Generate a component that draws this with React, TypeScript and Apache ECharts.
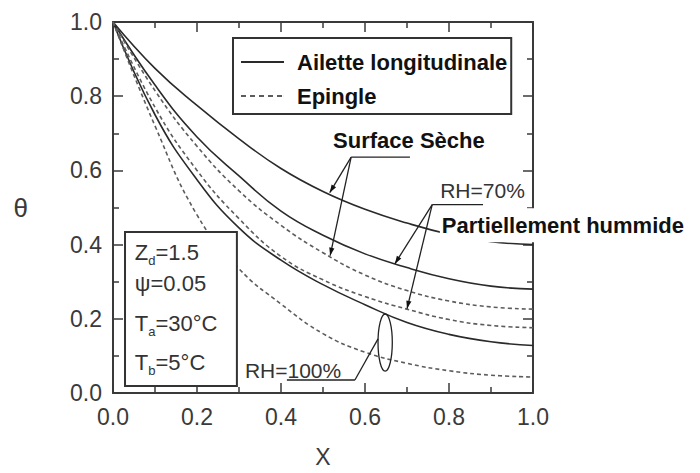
import React, { useEffect, useRef } from "react";
import * as echarts from "echarts";

// ---- data ----
const xValues = [0, 0.1, 0.2, 0.3, 0.4, 0.5, 0.6, 0.7, 0.8, 0.9, 1.0];
const ailetteSeche = [1, 0.875, 0.775, 0.685, 0.605, 0.543, 0.495, 0.458, 0.428, 0.408, 0.4];
const ailetteRH70 = [1, 0.83, 0.69, 0.585, 0.49, 0.425, 0.375, 0.338, 0.308, 0.288, 0.28];
const ailetteRH100 = [1, 0.75, 0.575, 0.445, 0.358, 0.292, 0.238, 0.19, 0.158, 0.138, 0.128];
const epingleSeche = [1, 0.815, 0.665, 0.545, 0.452, 0.378, 0.318, 0.276, 0.248, 0.232, 0.226];
const epingleRH70 = [1, 0.77, 0.6, 0.47, 0.368, 0.305, 0.26, 0.226, 0.198, 0.182, 0.176];
const epingleRH100 = [1, 0.72, 0.48, 0.335, 0.24, 0.16, 0.11, 0.08, 0.06, 0.048, 0.043];
const legendNames = ["Ailette longitudinale", "Epingle"];
const tickLabels = ["0.0", "0.2", "0.4", "0.6", "0.8", "1.0"];

const FONT = '"Liberation Sans", Arial, Helvetica, sans-serif';
const INK = "#3a3a3a";
const SOLID_ICON = "path://M0 0H43V2H0Z";
const DASH_ICON =
  "path://M0 0H5V2H0Z M9 0H14V2H9Z M18 0H23V2H18Z M27 0H32V2H27Z M36 0H41V2H36Z M42.9 0H43V2H42.9Z";

export default function App() {
  const ref = useRef<HTMLDivElement>(null);
  useEffect(() => {
    const chart = echarts.init(ref.current!, null, { renderer: "svg" });
    const pairs = (ys: number[]) => xValues.map((x, i) => [x, ys[i]]);
    const solid = { color: "#2a2a2a", width: 1.6, type: "solid" };
    const dashed = { color: "#5c5c5c", width: 1.6, type: [4, 3] };
    const mk = (name: string, ys: number[], ls: any) => ({
      type: "line",
      name,
      data: pairs(ys),
      smooth: 0.45,
      symbol: "none",
      lineStyle: ls,
      itemStyle: { color: ls.color },
      z: 3,
    });
    const fmt = (v: number) => tickLabels[Math.round(v / 0.2)] ?? "";
    const axisBase: any = {
      type: "value",
      min: 0,
      max: 1,
      interval: 0.2,
      axisLine: { show: true, onZero: false, lineStyle: { color: INK, width: 2 } },
      axisTick: { show: true, inside: true, length: 10, lineStyle: { color: INK, width: 1.5 } },
      minorTick: { show: true, splitNumber: 2, length: 6, lineStyle: { color: INK, width: 1.5 } },
      splitLine: { show: false },
      minorSplitLine: { show: false },
    };
    const label = { fontSize: 23, color: INK, fontFamily: FONT, formatter: fmt };

    chart.setOption({
      animation: false,
      backgroundColor: "#fff",
      grid: { left: 113, right: 167, top: 22, bottom: 75, containLabel: false },
      legend: {
        data: [
          { name: legendNames[0], icon: SOLID_ICON, itemStyle: { color: "#2a2a2a" } },
          { name: legendNames[1], icon: DASH_ICON, itemStyle: { color: "#5c5c5c" } },
        ],
        orient: "vertical",
        left: 233,
        top: 38,
        itemWidth: 43,
        itemHeight: 14,
        itemGap: 10,
        padding: [12, 4, 6, 8],
        borderColor: "#333",
        borderWidth: 2,
        backgroundColor: "#fff",
        selectedMode: false,
        textStyle: {
          fontSize: 22,
          fontWeight: "bold",
          color: "#111",
          fontFamily: FONT,
          lineHeight: 24,
          padding: [0, 0, 0, 8],
        },
      },
      xAxis: [
        {
          ...axisBase,
          position: "bottom",
          axisLabel: { ...label, margin: 12 },
          name: "X",
          nameLocation: "middle",
          nameGap: 52,
          nameTextStyle: { fontSize: 23, color: INK, fontFamily: FONT },
        },
        { ...axisBase, position: "top", axisLabel: { show: false } },
      ],
      yAxis: [
        {
          ...axisBase,
          position: "left",
          axisLabel: { ...label, margin: 11 },
          name: "θ",
          nameLocation: "middle",
          nameRotate: 0,
          nameGap: 85,
          nameTextStyle: { fontSize: 26, color: INK, fontFamily: FONT },
        },
        { ...axisBase, position: "right", axisLabel: { show: false } },
      ],
      series: [
        mk(legendNames[0], ailetteSeche, solid),
        mk(legendNames[0], ailetteRH70, solid),
        mk(legendNames[0], ailetteRH100, solid),
        mk(legendNames[1], epingleSeche, dashed),
        mk(legendNames[1], epingleRH70, dashed),
        mk(legendNames[1], epingleRH100, dashed),
      ],
    });

    // ---- annotations (positions in data coordinates) ----
    const P = (x: number, y: number) =>
      chart.convertToPixel({ xAxisIndex: 0, yAxisIndex: 0 }, [x, y]) as number[];
    const canvas = document.createElement("canvas").getContext("2d")!;
    const measure = (t: string, size: number, weight = "normal") => {
      canvas.font = `${weight} ${size}px "Liberation Sans"`;
      return canvas.measureText(t).width;
    };
    const els: any[] = [];
    const txt = (t: string, x: number, y: number, size: number, weight = "normal", extra: any = {}) =>
      els.push({
        type: "text",
        z: 100,
        x,
        y,
        style: {
          text: t,
          fill: "#111",
          fontSize: size,
          fontWeight: weight,
          fontFamily: FONT,
          align: "left",
          textAlign: "left",
          verticalAlign: "middle",
          textVerticalAlign: "middle",
          ...extra,
        },
      });
    const seg = (a: number[], b: number[], w = 1.3) =>
      els.push({
        type: "line",
        z: 90,
        shape: { x1: a[0], y1: a[1], x2: b[0], y2: b[1] },
        style: { stroke: "#222", lineWidth: w },
      });
    const arrow = (from: number[], tip: number[]) => {
      seg(from, tip);
      const dx = tip[0] - from[0];
      const dy = tip[1] - from[1];
      const len = Math.hypot(dx, dy);
      const ux = dx / len, uy = dy / len;
      const L = 8, W = 2.6;
      els.push({
        type: "polygon",
        z: 91,
        shape: {
          points: [
            tip,
            [tip[0] - L * ux + W * uy, tip[1] - L * uy - W * ux],
            [tip[0] - L * ux - W * uy, tip[1] - L * uy + W * ux],
          ],
        },
        style: { fill: "#111" },
      });
    };

    // Surface Sèche
    const sLab = P(0.524, 0.681);
    txt("Surface Sèche", sLab[0], sLab[1], 22, "bold");
    const sHub = P(0.567, 0.636);
    seg(sHub, P(0.707, 0.636));
    arrow(sHub, P(0.516, 0.54));
    arrow(sHub, P(0.517, 0.37));

    // RH=70%
    const r7 = P(0.779, 0.545);
    txt("RH=70%", r7[0], r7[1], 21, "normal", { fill: "#333" });
    const r7Hub = P(0.76, 0.508);
    seg(r7Hub, P(0.881, 0.508));
    arrow(r7Hub, P(0.671, 0.348));
    arrow(r7Hub, P(0.7, 0.227));

    // Partiellement hummide (white box hides the frame under it)
    const ph = P(0.783, 0.463);
    txt("Partiellement hummide", ph[0] - 2, ph[1] + 4, 22, "bold", {
      backgroundColor: "#fff",
      padding: [3, 2, 9, 2],
    });

    // RH=100%
    const r1 = P(0.314, 0.061);
    txt("RH=100%", r1[0], r1[1], 21, "normal", { fill: "#333" });
    const u1 = P(0.414, 0.035);
    const u2 = P(0.576, 0.035);
    seg(u1, u2);
    seg(u2, P(0.631, 0.146));
    const ec = P(0.648, 0.136);
    const er = P(0.665, 0.213);
    els.push({
      type: "ellipse",
      z: 90,
      shape: { cx: ec[0], cy: ec[1], rx: Math.abs(er[0] - ec[0]), ry: Math.abs(er[1] - ec[1]) },
      style: { fill: "none", stroke: "#222", lineWidth: 1.3 },
    });

    // parameter box
    const b1 = P(0.0286, 0.434);
    const b2 = P(0.295, 0.019);
    els.push({
      type: "rect",
      z: 80,
      shape: { x: b1[0], y: b1[1], width: b2[0] - b1[0], height: b2[1] - b1[1] },
      style: { fill: "#fff", stroke: "#333", lineWidth: 2 },
    });
    const paramLines: [string, string, string][] = [
      ["Z", "d", "=1.5"],
      ["ψ=0.05", "", ""],
      ["T", "a", "=30°C"],
      ["T", "b", "=5°C"],
    ];
    const paramY = [0.38, 0.295, 0.186, 0.082];
    const MAIN = 22, SUB = 13;
    paramLines.forEach((ln, i) => {
      const p = P(0.052, paramY[i]);
      let x = p[0];
      txt(ln[0], x, p[1], MAIN, "normal", { fill: "#333" });
      x += measure(ln[0], MAIN);
      if (ln[1]) {
        txt(ln[1], x, p[1] + 8, SUB, "normal", { fill: "#333" });
        x += measure(ln[1], SUB);
        txt(ln[2], x, p[1], MAIN, "normal", { fill: "#333" });
      }
    });

    chart.setOption({ graphic: { elements: els } });
    return () => chart.dispose();
  }, []);
  return (
    <div
      ref={ref}
      style={{ position: "fixed", left: 0, top: 0, width: 700, height: 473, background: "#fff" }}
    />
  );
}
